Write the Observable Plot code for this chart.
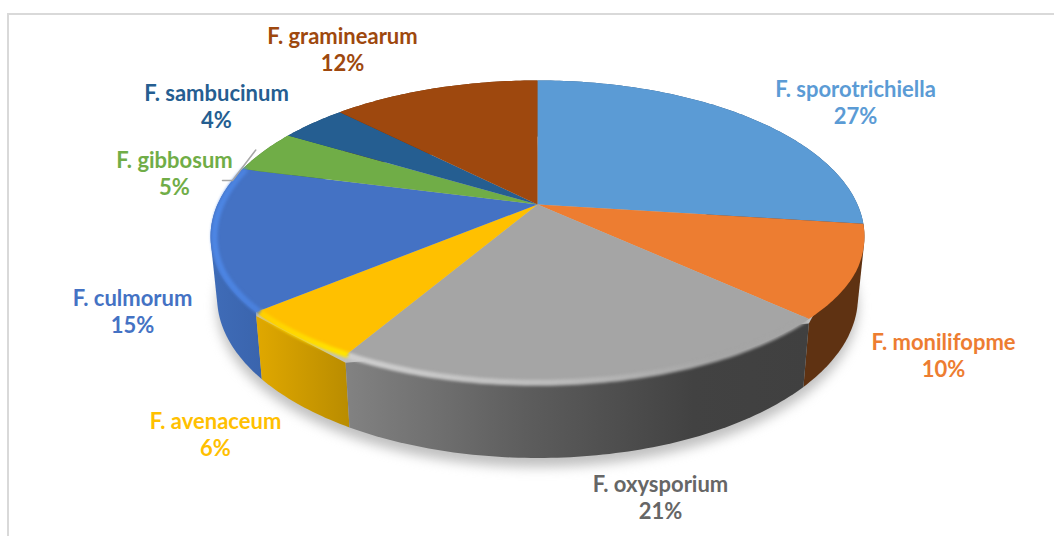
<!DOCTYPE html>
<html>
<head>
<meta charset="utf-8">
<script src="https://cdn.jsdelivr.net/npm/d3@7"></script>
<script src="https://cdn.jsdelivr.net/npm/@observablehq/plot@0.6"></script>
<style>
html,body{margin:0;padding:0;background:#fff;overflow:hidden}
#wrap{position:relative;width:1054px;height:536px}
#frame{position:absolute;left:7px;top:13px;right:0;bottom:0;border-top:2px solid #d9d9d9;border-left:2px solid #d9d9d9;pointer-events:none}
svg{display:block}
</style>
</head>
<body>
<div id="wrap"><div id="chart"></div><div id="frame"></div></div>
<script>
// Data
const names = ["F. sporotrichiella","F. monilifopme","F. oxysporium","F. avenaceum","F. culmorum","F. gibbosum","F. sambucinum","F. graminearum"];
const shares = [27,10,21.2,5.6,15.2,4.5,4,12.5];
const percentLabels = ["27%","10%","21%","6%","15%","5%","4%","12%"];
const faceColors = ["#5b9bd5","#ed7d31","#a5a5a5","#ffc000","#4472c4","#70ad47","#255e91","#9e480e"];
const textColors = ["#5b9bd5","#ed7d31","#666666","#ffc000","#4472c4","#70ad47","#255e91","#9e480e"];
// Wall shading, left to right: [offset, colour]
const wallRamps = [
  [[0,"#2d5a86"],[1,"#244a70"]],
  [[0,"#5f3212"],[1,"#5f3212"]],
  [[0,"#828282"],[0.4,"#5c5c5c"],[0.75,"#424242"],[1,"#404040"]],
  [[0,"#e0a800"],[1,"#b98c00"]],
  [[0,"#3f6cb8"],[1,"#3a64ad"]],
  [[0,"#4c7a30"],[1,"#4c7a30"]],
  [[0,"#1b4568"],[1,"#1b4568"]],
  [[0,"#6e3209"],[1,"#6e3209"]]
];
// Rim highlight, left to right (null: no highlight)
const rimRamps = [null,null,
  [[0,"#cfcfcf"],[0.45,"#bcbcbc"],[0.8,"#a5a5a5"],[1,"#a5a5a5"]],
  [[0,"#ffd000"],[1,"#ffe600"]],
  [[0,"#4d86e4"],[1,"#4a80dc"]],
  null,null,null];

// Layout: pie centre and radii in pixels, perspective strength, label centres in pixels
const CX = 537, CY = 204, RX = 320, RY = 149.5, K = 0.205;
const labelCentres = [[855,101],[943,354],[660,496],[215,433],[132,310],[174,172],[216,105],[342,48]];
const toX = px => (px - CX) / RX, toY = py => (py - CY) / RY;
const project = (a, r = 1) => {
  const u = r * Math.sin(a), v = -r * Math.cos(a), d = 1 - K * v;
  return {x: u / d, y: v / d};
};
const toBase = p => ({x: p.x * 0.98, y: p.y * 1.03 + 0.4});
// The bevel pulls the front edge of the top face up from the outer rim
const bevelled = (a) => {
  const p = project(a), t = Math.min(1, Math.max(0, (-Math.cos(a) - 0.4) / 0.6));
  return {x: p.x, y: p.y - 0.065 * t};
};

const slices = d3.pie().sort(null).value(d => d)(shares).map((s, i) => ({...s, i, name: names[i], mid: (s.startAngle + s.endAngle) / 2}));
const angles = s => {
  const n = Math.max(8, Math.ceil((s.endAngle - s.startAngle) * 60));
  return d3.range(n + 1).map(j => s.startAngle + (s.endAngle - s.startAngle) * j / n);
};
const arc = s => angles(s).map(a => project(a));
const bevelArc = s => angles(s).map(bevelled);

const topFace = slices.flatMap(s => [{x:0,y:0}, ...bevelArc(s), {x:0,y:0}].map(p => ({...p, name: s.name})));
const whole = d3.range(241).map(j => project(j / 240 * 2 * Math.PI));
const wallOrder = [...slices].sort((a, b) => -Math.cos(a.mid) - -Math.cos(b.mid));
// A wall is the hull of its top and bottom arcs, so the tangent at the silhouette is filled;
// the part of the hull inside the disc lies under the top face.
const wallOutline = s => {
  const a = arc(s);
  const hull = d3.polygonHull([...a, ...a.map(toBase)].map(p => [p.x, p.y]));
  return [...hull, hull[0]].map(([x, y]) => ({x, y}));
};

const defs = () => {
  const d = d3.create("svg:defs");
  const add = (id, ramp) => {
    const g = d.append("linearGradient").attr("id", id);
    ramp.forEach(([o, c]) => g.append("stop").attr("offset", o).attr("stop-color", c));
  };
  wallRamps.forEach((r, i) => add("wall" + i, r));
  rimRamps.forEach((r, i) => r && add("rim" + i, r));
  return d.node();
};

const marks = [
  defs,
  // soft shadow beneath the disc
  Plot.line(whole.map(toBase).map(p => ({x: p.x, y: p.y + 0.06})), {x:"x", y:"y", fill:"#b0b0b0", stroke:"none", fillOpacity:0.8, imageFilter:"blur(6px)"}),
  // outer walls
  ...wallOrder.map(s =>
    Plot.line(wallOutline(s), {x:"x", y:"y", fill:`url(#wall${s.i})`, stroke:"none"})
  ),
  // top face
  Plot.line(topFace, {x:"x", y:"y", z:"name", fill:"name", stroke:"none", imageFilter:"blur(0.7px)"}),
  // rim highlights
  ...slices.filter(s => rimRamps[s.i]).map(s =>
    Plot.line(bevelArc(s).map(p => ({x: p.x * 0.988, y: p.y})), {x:"x", y:"y", stroke:`url(#rim${s.i})`, strokeWidth:6, imageFilter:"blur(1.5px)", strokeLinecap:"butt"})
  ),
  // leader for the gibbosum label
  Plot.line([project(slices[5].mid, 1.03), {x: toX(232), y: toY(180)}, {x: toX(222), y: toY(180)}], {x:"x", y:"y", stroke:"#a6a6a6", strokeWidth:1.5}),
  // labels
  Plot.text(slices, {
    x: s => toX(labelCentres[s.i][0]),
    y: s => toY(labelCentres[s.i][1]),
    text: s => `${s.name}\n${percentLabels[s.i]}`,
    fill: s => textColors[s.i],
    fontFamily: "Lato, 'Open Sans', sans-serif",
    fontWeight: 700,
    fontSize: 22,
    lineHeight: 1.25,
    textAnchor: "middle",
    lineAnchor: "middle"
  })
];

const plot = Plot.plot({
  width: 1054, height: 536,
  margin: 0,
  style: {background: "transparent"},
  x: {domain: [-1, 1], range: [CX - RX, CX + RX], axis: null},
  y: {domain: [-1, 1], range: [CY - RY, CY + RY], axis: null},
  color: {domain: names, range: faceColors},
  marks
});
document.getElementById("chart").appendChild(plot);
</script>
</body>
</html>
